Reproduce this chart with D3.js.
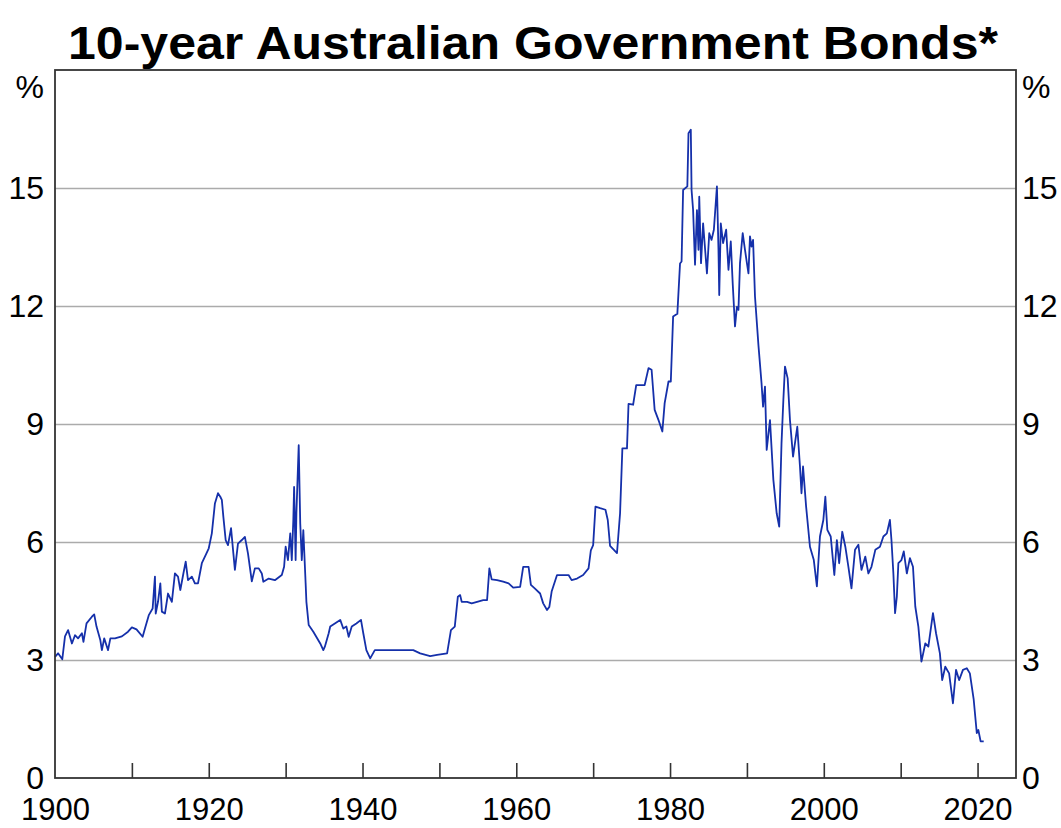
<!DOCTYPE html>
<html><head><meta charset="utf-8">
<script src="https://cdn.jsdelivr.net/npm/d3@7"></script>
<style>body{margin:0;background:#fff}svg{display:block}text{font-family:"Liberation Sans",Arial,sans-serif}</style>
</head><body><svg id="c" width="1061" height="828"></svg>
<script>
const titleText = "10-year Australian Government Bonds*";
const unitLabel = "%";
const yTicks = [0, 3, 6, 9, 12, 15];
const xTickYears = [1910,1920,1930,1940,1950,1960,1970,1980,1990,2000,2010,2020];
const xLabelYears = [1900,1920,1940,1960,1980,2000,2020];
const years = [1900.0,1900.4,1900.95,1901.3,1901.7,1902.2,1902.6,1903.0,1903.5,1903.7,1904.1,1904.8,1905.1,1905.4,1905.9,1906.1,1906.4,1906.9,1907.2,1907.8,1908.7,1909.5,1910.0,1910.6,1911.4,1911.7,1912.2,1912.7,1913.0,1913.1,1913.4,1913.7,1913.9,1914.3,1914.7,1915.2,1915.6,1916.0,1916.3,1916.7,1917.0,1917.3,1917.8,1918.2,1918.6,1919.1,1919.7,1920.0,1920.4,1920.8,1921.2,1921.5,1921.7,1921.9,1922.2,1922.5,1922.9,1923.2,1923.4,1923.8,1924.3,1924.7,1925.1,1925.6,1926.0,1926.5,1926.9,1927.1,1927.8,1928.6,1929.5,1929.8,1930.0,1930.3,1930.6,1930.8,1931.0,1931.1,1931.3,1931.4,1931.7,1931.9,1932.1,1932.3,1932.6,1932.7,1933.0,1933.6,1934.5,1934.9,1935.1,1935.6,1935.8,1936.4,1937.1,1937.5,1937.9,1938.2,1938.6,1939.2,1939.8,1940.1,1940.5,1941.0,1941.6,1946.6,1947.5,1948.8,1949.7,1951.0,1951.5,1952.0,1952.4,1952.7,1952.9,1953.6,1954.2,1954.9,1955.7,1956.2,1956.5,1956.8,1957.5,1958.3,1959.0,1959.6,1960.5,1960.9,1961.6,1961.9,1962.4,1963.1,1963.5,1964.0,1964.3,1964.6,1965.3,1966.8,1967.2,1967.9,1968.7,1969.4,1969.7,1970.0,1970.3,1970.9,1971.6,1971.9,1972.2,1973.1,1973.5,1973.8,1974.4,1974.6,1975.2,1975.6,1976.7,1977.2,1977.6,1978.0,1978.5,1979.0,1979.3,1979.8,1980.1,1980.4,1980.95,1981.3,1981.5,1981.7,1982.25,1982.4,1982.7,1982.8,1983.0,1983.25,1983.5,1983.7,1983.8,1984.03,1984.3,1984.6,1984.8,1985.1,1985.4,1985.7,1986.1,1986.3,1986.4,1986.6,1986.9,1987.3,1987.6,1987.9,1988.15,1988.45,1988.7,1988.9,1989.1,1989.45,1989.75,1990.0,1990.2,1990.4,1990.6,1990.8,1991.05,1991.5,1991.9,1992.1,1992.35,1992.57,1993.0,1993.44,1993.87,1994.2,1994.5,1994.74,1994.95,1995.3,1995.6,1996.0,1996.55,1996.9,1997.1,1997.3,1997.7,1998.2,1998.7,1999.1,1999.5,1999.94,2000.2,2000.46,2000.9,2001.37,2001.7,2002.0,2002.4,2002.8,2003.2,2003.6,2004.06,2004.5,2004.9,2005.4,2005.8,2006.2,2006.7,2007.3,2007.75,2008.2,2008.6,2008.8,2009.05,2009.27,2009.5,2009.7,2010.1,2010.4,2010.8,2011.2,2011.6,2011.9,2012.3,2012.7,2013.2,2013.6,2014.2,2014.6,2015.1,2015.4,2015.8,2016.3,2016.8,2017.2,2017.6,2018.1,2018.6,2019.0,2019.5,2019.9,2020.1,2020.4,2020.8];
const yields = [3.08,3.17,3.02,3.6,3.76,3.42,3.63,3.55,3.68,3.46,3.93,4.1,4.16,3.85,3.5,3.25,3.55,3.25,3.55,3.55,3.6,3.72,3.83,3.78,3.59,3.8,4.14,4.31,5.12,4.18,4.48,4.95,4.23,4.18,4.69,4.48,5.2,5.12,4.78,5.2,5.5,5.03,5.12,4.95,4.95,5.46,5.71,5.84,6.22,6.98,7.24,7.15,7.07,6.64,6.05,5.92,6.35,5.71,5.29,5.96,6.05,6.13,5.71,5.0,5.33,5.33,5.2,4.99,5.07,5.03,5.16,5.37,5.88,5.54,6.22,5.54,6.56,7.4,5.54,6.73,8.46,6.47,5.54,6.3,4.95,4.48,3.89,3.72,3.42,3.25,3.34,3.68,3.85,3.93,4.02,3.8,3.85,3.59,3.85,3.93,4.02,3.68,3.25,3.04,3.25,3.25,3.17,3.1,3.13,3.17,3.76,3.85,4.61,4.65,4.48,4.48,4.44,4.48,4.52,4.52,5.33,5.05,5.03,4.99,4.95,4.84,4.86,5.37,5.37,4.91,4.82,4.69,4.44,4.27,4.35,4.74,5.16,5.16,5.03,5.07,5.16,5.33,5.79,5.92,6.9,6.86,6.82,6.56,5.9,5.72,6.73,8.38,8.38,9.51,9.49,9.99,9.99,10.42,10.38,9.36,9.1,8.81,9.53,10.08,10.08,11.73,11.8,13.08,13.13,14.95,15.04,16.39,16.48,14.95,14.44,13.05,14.44,13.43,14.78,13.09,14.1,13.34,12.83,13.85,13.68,13.94,15.04,13.43,12.28,14.1,13.6,13.94,12.92,13.64,12.58,11.48,11.98,11.9,13.09,13.85,13.43,13.09,12.83,13.77,13.51,13.68,12.24,11.0,10.04,9.44,9.95,8.34,9.1,7.58,6.73,6.39,8.51,9.61,10.46,10.16,9.1,8.17,8.93,7.92,7.24,7.92,6.9,5.88,5.54,4.87,6.14,6.56,7.15,6.31,6.14,5.16,6.05,5.46,6.26,5.88,5.37,4.82,5.8,5.93,5.29,5.63,5.2,5.37,5.8,5.88,6.14,6.22,6.56,6.05,5.2,4.19,4.61,5.46,5.54,5.76,5.2,5.59,5.37,4.36,3.85,2.96,3.42,3.34,4.19,3.68,3.17,2.49,2.83,2.66,1.9,2.75,2.49,2.75,2.79,2.66,1.99,1.14,1.22,0.93,0.93];

const svg = d3.select("#c");
const L = 55, R = 1016, T = 70, B = 778;
const x = d3.scaleLinear().domain([1900, 2025]).range([L, R]);
const y = d3.scaleLinear().domain([0, 18]).range([B, T]);

// gridlines
svg.append("g").attr("transform", `translate(${L},0)`)
  .call(d3.axisLeft(y).tickValues(yTicks.filter(d => d > 0)).tickSize(-(R - L)).tickFormat(""))
  .call(g => g.select(".domain").remove())
  .call(g => g.selectAll("line").attr("stroke", "#ababab").attr("stroke-width", 1.6));

// x tick marks (inward)
svg.append("g").attr("transform", `translate(0,${B})`)
  .call(d3.axisBottom(x).tickValues(xTickYears).tickSize(-15).tickFormat(""))
  .call(g => g.select(".domain").remove())
  .call(g => g.selectAll("line").attr("stroke", "#333").attr("stroke-width", 1.6));

// x labels
svg.append("g").attr("transform", `translate(0,${B})`)
  .call(d3.axisBottom(x).tickValues(xLabelYears).tickSize(0).tickPadding(20).tickFormat(d3.format("d")))
  .call(g => g.select(".domain").remove())
  .call(g => g.selectAll("text").attr("font-size", 31).attr("fill", "#000").attr("font-family", "Liberation Sans, Arial, sans-serif").attr("dy", "0.71em"));

// y labels left & right
svg.append("g").attr("transform", `translate(${L},0)`)
  .call(d3.axisLeft(y).tickValues(yTicks).tickSize(0).tickPadding(11))
  .call(g => g.select(".domain").remove())
  .call(g => g.selectAll("text").attr("font-size", 32).attr("fill", "#000").attr("font-family", "Liberation Sans, Arial, sans-serif"));
svg.append("g").attr("transform", `translate(${R},0)`)
  .call(d3.axisRight(y).tickValues(yTicks).tickSize(0).tickPadding(6))
  .call(g => g.select(".domain").remove())
  .call(g => g.selectAll("text").attr("font-size", 32).attr("fill", "#000").attr("font-family", "Liberation Sans, Arial, sans-serif"));

// unit labels
svg.append("text").attr("x", L - 11).attr("y", 87).attr("dy", "0.35em").attr("text-anchor", "end")
  .attr("font-size", 32).text(unitLabel);
svg.append("text").attr("x", R + 6).attr("y", 87).attr("dy", "0.35em").attr("text-anchor", "start")
  .attr("font-size", 32).text(unitLabel);

// line
const pts = years.map((yr, i) => [yr, yields[i]]);
svg.append("path").datum(pts)
  .attr("fill", "none").attr("stroke", "#1530aa").attr("stroke-width", 1.8).attr("stroke-linejoin", "round")
  .attr("d", d3.line().x(d => x(d[0])).y(d => y(d[1])));

// frame
svg.append("rect").attr("x", L).attr("y", T).attr("width", R - L).attr("height", B - T)
  .attr("fill", "none").attr("stroke", "#333").attr("stroke-width", 1.8);

// title
svg.append("text").attr("x", (68 + 998) / 2).attr("y", 59).attr("text-anchor", "middle")
  .attr("font-size", 46).attr("font-weight", "bold").attr("textLength", 930).attr("lengthAdjust", "spacingAndGlyphs")
  .text(titleText);
</script></body></html>
